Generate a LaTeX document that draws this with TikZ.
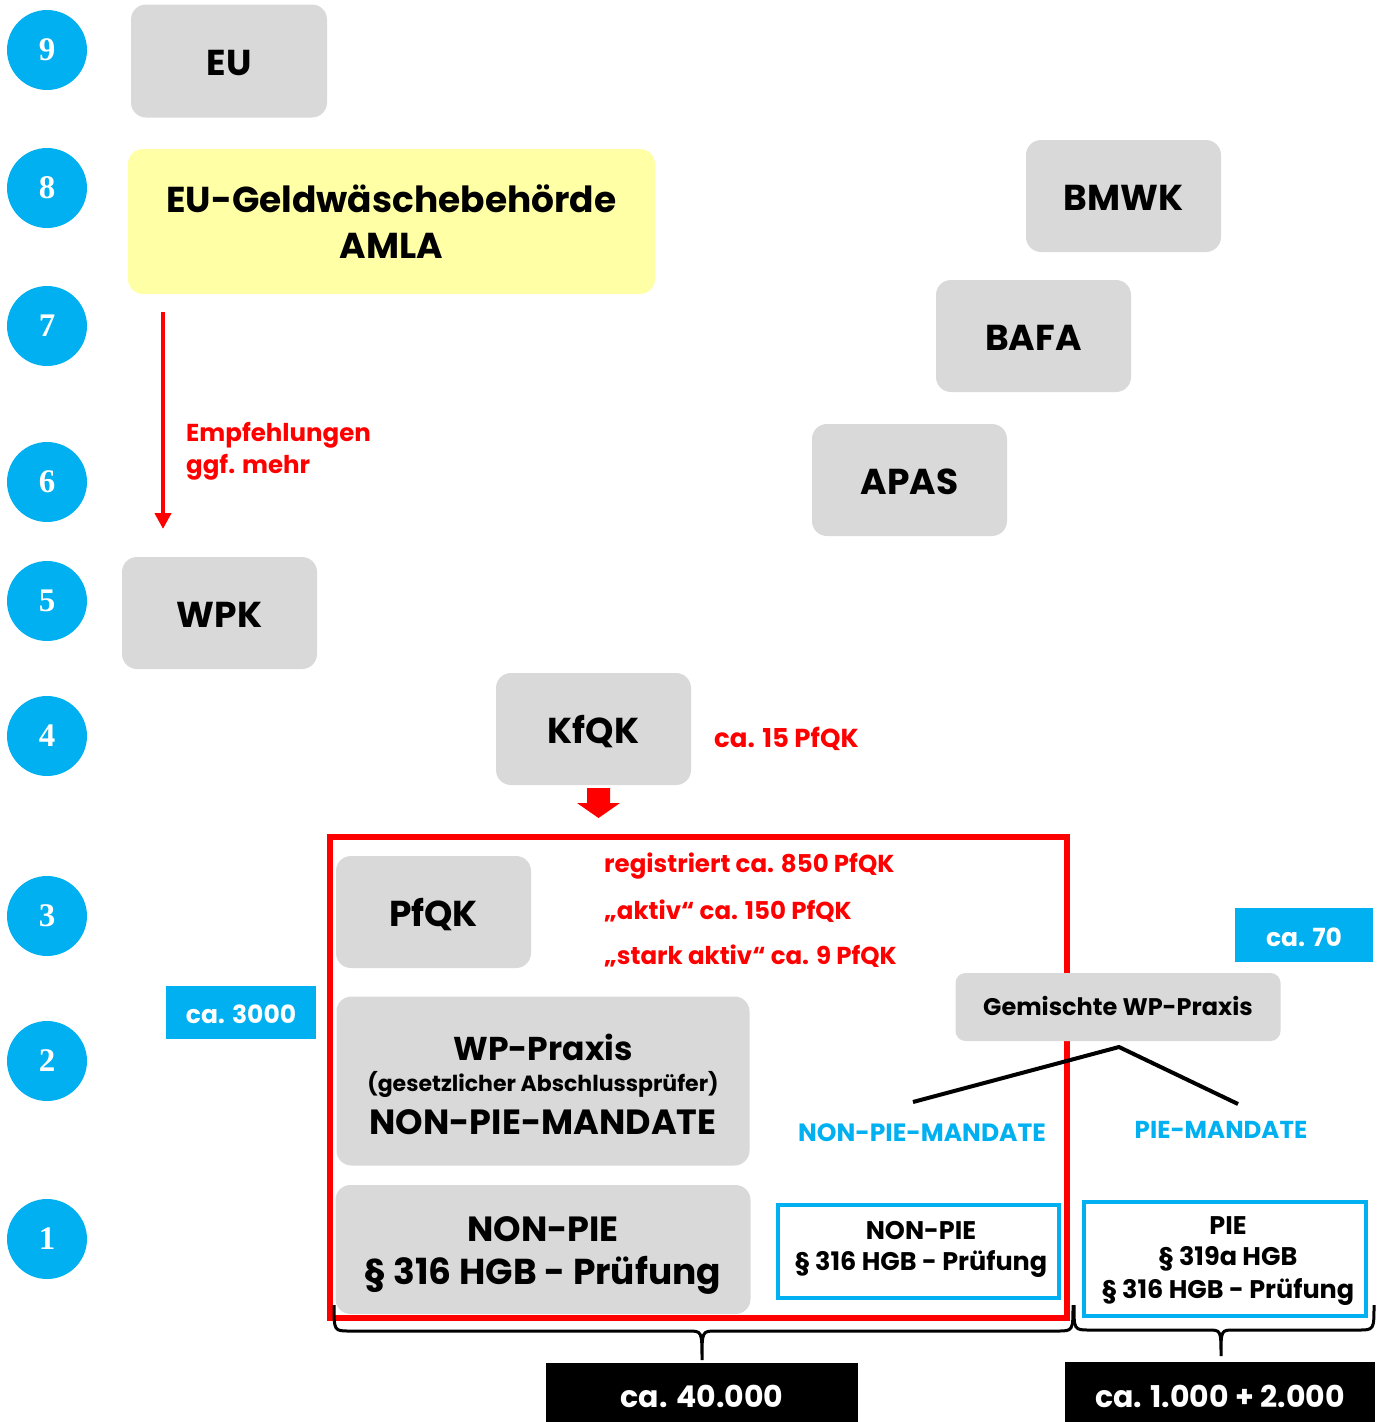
\documentclass[tikz,border=0pt]{standalone}
\usepackage{fontspec}
\setmainfont{Poppins}
\newfontfamily\numfont{Liberation Serif}
\usetikzlibrary{arrows.meta}
\definecolor{cyanb}{HTML}{00B0F0}
\definecolor{grayb}{HTML}{D9D9D9}
\definecolor{yellowb}{HTML}{FFFFA6}
\definecolor{redb}{HTML}{FF0000}
\newcommand\myfs[1]{\fontsize{#1}{#1}\selectfont}
\tikzset{
  numc/.style={circle,fill=cyanb,minimum size=80,inner sep=0,text=white,font=\numfont\bfseries\myfs{33}},
  gbox/.style={rounded corners=15,fill=grayb,inner sep=0,font=\bfseries\myfs{36}},
  onel/.style={text height=33,text depth=4},
  redtxt/.style={text=redb,font=\bfseries\myfs{24.5},inner sep=0,anchor=west},
  cyantag/.style={fill=cyanb,inner sep=0,text=white,font=\bfseries\myfs{25},text height=26.5,text depth=4},
  blacktag/.style={fill=black,inner sep=0,text=white,font=\bfseries\myfs{30},text height=33,text depth=4},
  cyanbox/.style={draw=cyanb,line width=3.5,inner sep=0,fill=white},
  cyantxt/.style={text=cyanb,font=\bfseries\myfs{25},inner sep=0},
  btxt/.style={inner sep=0,font=\bfseries\myfs{#1}},
  brace/.style={line width=3,black},
}
\begin{document}
\begin{tikzpicture}[x=1pt,y=-1pt]
\useasboundingbox (0,0) rectangle (1383,1422);
% level circles
\foreach \n/\yy in {9/50,8/188,7/326,6/482,5/601,4/736,3/916,2/1061,1/1239}
  \node[numc] (c\n) at (47,\yy) {\n};
% boxes
\node[gbox,onel,minimum width=196,minimum height=113] (eu) at (229,61) {EU};
\node[gbox,fill=yellowb,minimum width=527,minimum height=145,align=center,font=\bfseries\fontsize{36}{46}\selectfont] (amla) at (391.5,221.5) {EU-Geldwäschebehörde\\AMLA};
\node[gbox,onel,minimum width=195,minimum height=112] (bmwk) at (1123.5,196) {BMWK};
\node[gbox,onel,minimum width=195,minimum height=112] (bafa) at (1033.5,336) {BAFA};
\node[gbox,onel,minimum width=195,minimum height=112] (apas) at (909.5,480) {APAS};
\node[gbox,onel,minimum width=195,minimum height=112] (wpk) at (219.5,613) {WPK};
\node[gbox,onel,minimum width=195,minimum height=112] (kfqk) at (593.5,729) {KfQK};
% red arrow AMLA -> WPK
\coordinate (ra1) at (163,312);
\coordinate (ra2) at (163,529);
\draw[redb,line width=4,-{Triangle[width=16,length=16]}] (ra1) -- (ra2);
\node[redtxt] (emp) at (186,435) {Empfehlungen};
\node[redtxt] (ggf) at (186,467) {ggf. mehr};
\node[redtxt,font=\bfseries\myfs{26}] (ca15) at (714,739) {ca. 15 PfQK};
% block arrow
\fill[redb] (587,788) -- (610,788) -- (610,803) -- (620,803) -- (598.5,818) -- (577,803) -- (587,803) -- cycle;
% red frame
\draw[redb,line width=6] (330,837) rectangle (1067,1318);
% PfQK
\node[gbox,onel,minimum width=195,minimum height=112] (pfqk) at (433.5,912) {PfQK};
\node[redtxt] (reg) at (604,866) {registriert ca. 850 PfQK};
\node[redtxt] (akt) at (604,911) {„aktiv“ ca. 150 PfQK};
\node[redtxt] (stark) at (604,956) {„stark aktiv“ ca. 9 PfQK};
% cyan tags
\node[cyantag,minimum width=138,minimum height=54] (ca70) at (1304,935) {ca. 70};
\node[cyantag,minimum width=150,minimum height=53] (ca3000) at (241,1012.5) {ca. 3000};
% WP-Praxis
\node[gbox,minimum width=413,minimum height=169] (wpp) at (543,1081) {};
\node[btxt=33] (wpp1) at (543,1047) {WP-Praxis};
\node[btxt=22] (wpp2) at (543,1084) {(gesetzlicher Abschlussprüfer)};
\node[btxt=35] (wpp3) at (543,1122) {NON-PIE-MANDATE};
% NON-PIE gray
\node[gbox,minimum width=415,minimum height=129] (np) at (543,1249.5) {};
\node[btxt=35] (np1) at (543,1229) {NON-PIE};
\node[btxt=36] (np2) at (543,1275) {§ 316 HGB - Prüfung};
% Gemischte
\node[gbox,rounded corners=10,minimum width=325,minimum height=68,font=\bfseries\myfs{24},text height=21,text depth=4] (gem) at (1118,1007) {Gemischte WP-Praxis};
\coordinate (apex) at (1119,1047);
\coordinate (lend) at (913,1102);
\coordinate (rend) at (1238,1104);
\draw[line width=4] (lend) -- (apex) -- (rend);
\node[cyantxt] (npm) at (922,1133) {NON-PIE-MANDATE};
\node[cyantxt,font=\bfseries\myfs{24.5}] (pm) at (1221,1130) {PIE-MANDATE};
% cyan outline boxes
\node[cyanbox,minimum width=281,minimum height=93] (cb1) at (918.5,1251.5) {};
\node[btxt=25.5] (cb1a) at (921,1230) {NON-PIE};
\node[btxt=25.5] (cb1b) at (921,1264) {§ 316 HGB - Prüfung};
\node[cyanbox,minimum width=282,minimum height=114] (cb2) at (1225,1259) {};
\node[btxt=25.5] (cb2a) at (1228,1226) {PIE};
\node[btxt=25.5] (cb2b) at (1228,1259) {§ 319a HGB};
\node[btxt=25.5] (cb2c) at (1228,1292) {§ 316 HGB - Prüfung};
% braces
\draw[brace] (334,1305) .. controls (334,1331) .. (350,1331) -- (688,1331) .. controls (702,1331) .. (702,1360)
  .. controls (702,1331) .. (716,1331) -- (1057,1331) .. controls (1073,1331) .. (1073,1305);
\draw[brace] (1074,1305) .. controls (1074,1330) .. (1090,1330) -- (1208,1330) .. controls (1221,1330) .. (1221,1356)
  .. controls (1221,1330) .. (1234,1330) -- (1358,1330) .. controls (1374,1330) .. (1374,1305);
% black tags
\node[blacktag,minimum width=312,minimum height=60] (t40) at (702,1393) {ca. 40.000};
\node[blacktag,minimum width=310,minimum height=62] (t3) at (1220,1393) {ca. 1.000 + 2.000};
\end{tikzpicture}
\end{document}
